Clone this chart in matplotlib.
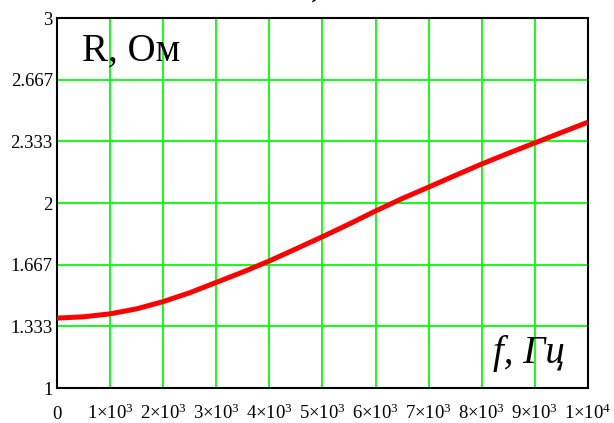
import matplotlib
matplotlib.use('Agg')

import matplotlib.pyplot as plt  # noqa: E402

plt.rcParams['font.family'] = ['Liberation Serif', 'DejaVu Serif']
plt.rcParams['mathtext.fontset'] = 'custom'
plt.rcParams['mathtext.rm'] = 'Liberation Serif'
plt.rcParams['mathtext.it'] = 'Liberation Serif:italic'

# resistance vs frequency, read at 500 Hz steps
freq = [0, 500, 1000, 1500, 2000, 2500, 3000, 3500, 4000, 4500,
        5000, 5500, 6000, 6500, 7000, 7500, 8000, 8500, 9000, 9500, 10000]
resistance = [1.378, 1.385, 1.401, 1.428, 1.467, 1.515, 1.571, 1.627, 1.687, 1.752,
              1.818, 1.886, 1.957, 2.024, 2.086, 2.149, 2.211, 2.269, 2.325, 2.381, 2.437]

x_ticks = [0, 1000, 2000, 3000, 4000, 5000, 6000, 7000, 8000, 9000, 10000]
x_tick_labels = ['0'] \
    + [r'$\mathregular{%d{\times}10^{3}}$' % k for k in range(1, 10)] \
    + [r'$\mathregular{1{\times}10^{4}}$']
y_ticks = [1, 4 / 3, 5 / 3, 2, 7 / 3, 8 / 3, 3]
y_tick_labels = ['1', '1.333', '1.667', '2', '2.333', '2.667', '3']

fig = plt.figure(figsize=(6.14, 4.23), dpi=100)
ax = fig.add_axes([0.0928, 0.0827, 0.8648, 0.8747])

ax.plot(freq, resistance, color='#ff0000', linewidth=3.6, solid_capstyle='butt', zorder=3)

ax.set_xlim(0, 10000)
ax.set_ylim(1, 3)
ax.set_xticks(x_ticks)
ax.set_xticklabels(x_tick_labels)
ax.set_yticks(y_ticks)
ax.set_yticklabels(y_tick_labels)
ax.tick_params(axis='both', length=0, labelsize=13.5, colors='black')
ax.tick_params(axis='x', pad=22.5)
ax.tick_params(axis='y', pad=3)
# put every x label on a shared baseline so "0" lines up with the powers
for lbl in ax.get_xticklabels():
    lbl.set_verticalalignment('baseline')

ax.grid(True, color='#00ff00', linewidth=1.3)
ax.set_axisbelow(True)
for spine in ax.spines.values():
    spine.set_color('black')
    spine.set_linewidth(1.5)

ax.text(0.048, 0.886, 'R, Ом', transform=ax.transAxes, fontsize=28,
        ha='left', va='baseline')
ax.text(0.821, 0.068, 'f, Гц', transform=ax.transAxes, fontsize=28,
        style='italic', ha='left', va='baseline')

# tail of the caption sitting above the plot
fig.text(0.506, 0.992, ')', fontsize=28, ha='left', va='bottom')

fig.savefig('out.png', dpi=100, facecolor='white')
plt.close(fig)
